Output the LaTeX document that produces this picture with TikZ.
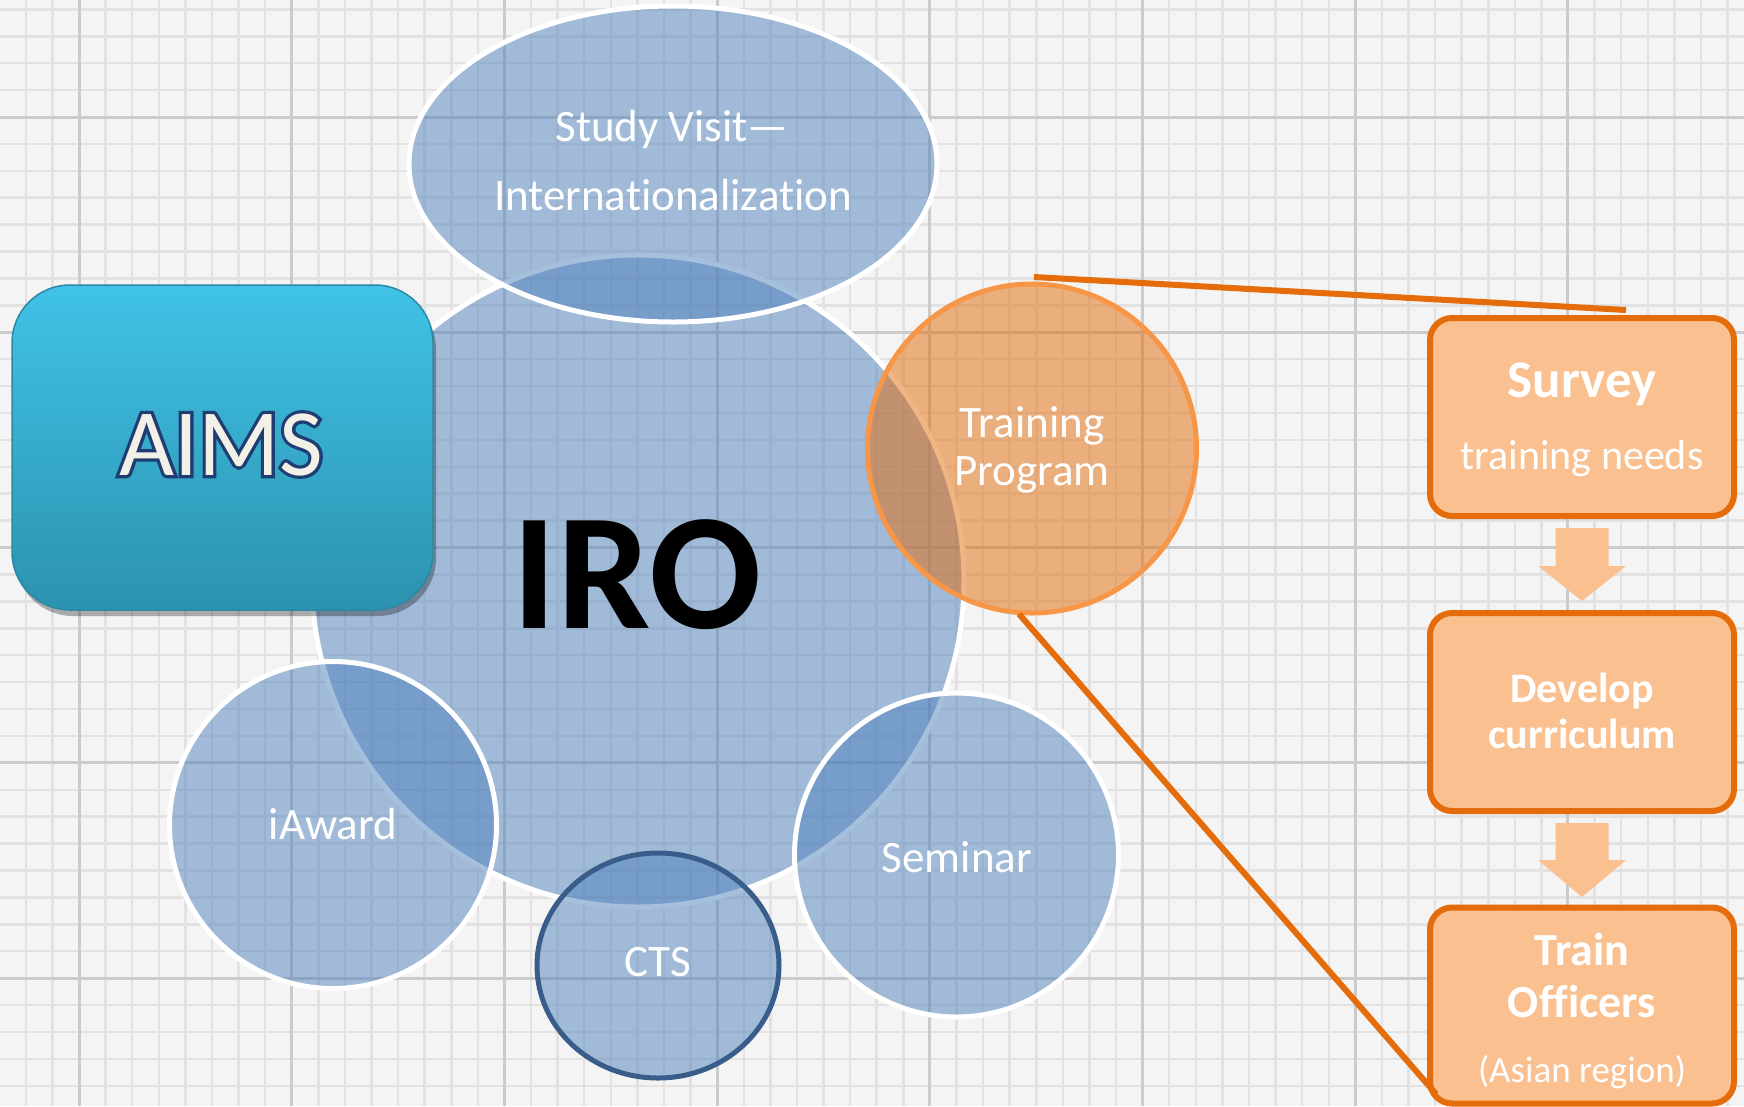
\documentclass[tikz,border=0pt]{standalone}
\usepackage{fontspec}
\setmainfont{Carlito}[Ligatures={NoCommon,NoContextual}]
\usetikzlibrary{shapes.geometric,shadows}
\definecolor{bgc}{HTML}{F4F4F4}
\definecolor{gridmin}{HTML}{E2E2E2}
\definecolor{gridmaj}{HTML}{CBCBCB}
\definecolor{blueF}{HTML}{4F81BD}
\definecolor{ctsB}{HTML}{385D8A}
\definecolor{orangeD}{HTML}{E46C0A}
\definecolor{orangeL}{HTML}{F79646}
\definecolor{boxF}{HTML}{FAC090}
\definecolor{aimsT}{HTML}{40C3E7}
\definecolor{aimsB}{HTML}{2C92AF}
\definecolor{aimsE}{HTML}{2A89A4}
\definecolor{aimsTxt}{HTML}{F3F1E7}
\definecolor{aimsO}{HTML}{1F3D70}
\begin{document}
\begin{tikzpicture}[x=1pt,y=-1pt,
  minorgrid/.style={draw=gridmin, line width=2.5pt},
  majorgrid/.style={draw=gridmaj, line width=3pt},
  bluecirc/.style={circle, inner sep=0pt, outer sep=0pt, fill=blueF, fill opacity=0.5, draw=white, line width=5pt},
  blueell/.style={ellipse, inner sep=0pt, outer sep=0pt, fill=blueF, fill opacity=0.5, draw=white, line width=5pt},
  obox/.style={rectangle, rounded corners=22pt, inner sep=0pt, outer sep=0pt, fill=boxF, draw=orangeD, line width=6pt, minimum width=304pt},
  barrow/.style={fill=boxF},
  oline/.style={draw=orangeD, line width=6pt},
  lbl/.style={text=white, font=\fontsize{45}{54}\selectfont, anchor=base, inner sep=0pt},
  bxbold/.style={text=white, anchor=base, inner sep=0pt},
  aimsfont/.style={font=\fontsize{95}{100}\selectfont, anchor=base, inner sep=0pt}]
\useasboundingbox (0,0) rectangle (1744,1106);
\clip (0,0) rectangle (1744,1106);
\fill[bgc] (0,0) rectangle (1744,1106);
% grid
\foreach \i in {-2,...,62} \draw[minorgrid] ({79+\i*26.59},0) -- ({79+\i*26.59},1106);
\foreach \j in {-4,...,36} \draw[minorgrid] (0,{117+\j*26.91}) -- (1744,{117+\j*26.91});
\foreach \i in {0,...,7} \draw[majorgrid] ({79+\i*212.7},0) -- ({79+\i*212.7},1106);
\foreach \j in {0,...,4} \draw[majorgrid] (0,{117+\j*215.3}) -- (1744,{117+\j*215.3});
% circles
\node[bluecirc, minimum size=652pt] (iro) at (638,581) {};
\node[blueell, minimum width=528pt, minimum height=316pt] (sv) at (673,164) {};
\node[bluecirc, minimum size=327pt] (iaw) at (333,825) {};
\node[ellipse, inner sep=0pt, outer sep=0pt, fill=blueF, fill opacity=0.5, draw=ctsB, line width=5pt, minimum width=242pt, minimum height=225pt] (cts) at (658,965.5) {};
\node[bluecirc, minimum size=324pt] (sem) at (956.5,855) {};
\node[circle, inner sep=0pt, outer sep=0pt, fill=orangeD, fill opacity=0.5, draw=orangeL, line width=5pt, minimum size=329pt] (tp) at (1032,448.5) {};
% AIMS box
\node[rectangle, rounded corners=58pt, inner sep=0pt, minimum width=421pt, minimum height=325pt,
  top color=aimsT, bottom color=aimsB, draw=aimsE, line width=1.5pt,
  drop shadow={shadow xshift=3pt, shadow yshift=-6pt, opacity=0.3, fill=black}] (aims) at (222.5,447.5) {};
% right boxes
\node[obox, minimum height=198pt] (survey) at (1582,417) {};
\node[obox, minimum height=198pt] (develop) at (1582,712) {};
\node[obox, minimum height=196pt] (train) at (1582,1005.5) {};
% block arrows
\fill[barrow] (survey.south) ++(-26.5,12) -- ++(53,0) -- ++(0,38) -- ++(17.5,0) -- ++(-44,35) -- ++(-44,-35) -- ++(17.5,0) -- cycle;
\fill[barrow] (develop.south) ++(-26.5,12) -- ++(53,0) -- ++(0,37) -- ++(17.5,0) -- ++(-44,37) -- ++(-44,-37) -- ++(17.5,0) -- cycle;
% callout lines
\coordinate (c1) at (1034,277);
\coordinate (c2) at (1626,310);
\coordinate (c3) at (1019,614);
\coordinate (c4) at (1436,1094);
\draw[oline] (c1) -- (c2);
\draw[oline] (c3) -- (c4);
% labels
\node[lbl] (tsv1) at (672,141) {Study Visit—};
\node[lbl] (tsv2) at (673,210) {Internationalization};
\node[lbl] (ttp1) at (1032,437) {Training};
\node[lbl] (ttp2) at (1032,485) {Program};
\node[lbl] (tiaw) at (333,839) {iAward};
\node[lbl] (tcts) at (658,976) {CTS};
\node[lbl] (tsem) at (957,872) {Seminar};
\node[font=\bfseries\fontsize{166}{166}\selectfont, anchor=base, inner sep=0pt, text=black] (tiro) at (637,628) {IRO};
% AIMS text: dark stroked underlay, cream fill on top
\node[aimsfont, text=aimsO] (taimso) at (221,475) {\special{pdf:literal direct 2 Tr 6.5 w 0.122 0.239 0.439 RG}AIMS\special{pdf:literal direct 0 Tr}};
\node[aimsfont, text=aimsTxt] (taims) at (221,475) {AIMS};
% box texts
\node[bxbold, font=\bfseries\fontsize{53}{60}\selectfont] (tsur1) at (1582,397) {Survey};
\node[bxbold, font=\fontsize{42}{50}\selectfont] (tsur2) at (1582,469) {training needs};
\node[bxbold, font=\bfseries\fontsize{42}{50}\selectfont] (tdev1) at (1582,702) {Develop};
\node[bxbold, font=\bfseries\fontsize{42}{50}\selectfont] (tdev2) at (1582,748) {curriculum};
\node[bxbold, font=\bfseries\fontsize{46}{52}\selectfont] (ttr1) at (1582,965) {Train};
\node[bxbold, font=\bfseries\fontsize{46}{52}\selectfont] (ttr2) at (1582,1017) {Officers};
\node[bxbold, font=\fontsize{37}{44}\selectfont] (ttr3) at (1582,1082) {(Asian region)};
\end{tikzpicture}
\end{document}
